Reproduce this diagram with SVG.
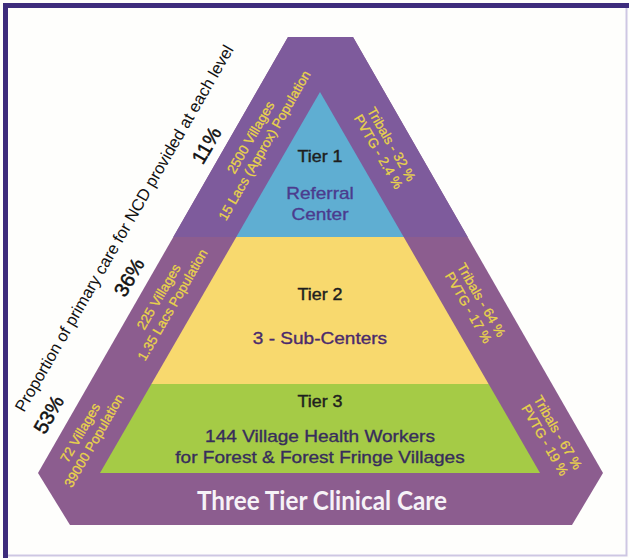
<svg xmlns="http://www.w3.org/2000/svg" width="629" height="558" viewBox="0 0 629 558">
  <style>
    .sans { font-family: "Liberation Sans", Arial, sans-serif; }
    .band { font-family: "Liberation Sans", Arial, sans-serif; font-size: 13.5px; fill: #E9D44A; stroke: #E9D44A; stroke-width: 0.3; text-anchor: middle; }
    .pct { font-family: "Liberation Sans", Arial, sans-serif; font-size: 20px; fill: #111; stroke: #111; stroke-width: 0.5; text-anchor: middle; }
    .tier { font-family: "Liberation Sans", Arial, sans-serif; font-size: 16px; fill: #1E1E1E; stroke: #1E1E1E; stroke-width: 0.4; text-anchor: middle; }
    .desc { font-family: "Liberation Sans", Arial, sans-serif; font-size: 17px; stroke-width: 0.35; text-anchor: middle; }
  </style>

  <!-- page background and frame -->
  <rect x="0" y="0" width="629" height="558" fill="#FEFEFC"/>
  <path d="M5.5 558 V5.5 H629" fill="none" stroke="#3D2C7C" stroke-width="5"/>
  <path d="M626.5 8 V555.5 H8" fill="none" stroke="#CEC7E3" stroke-width="2"/>

  <!-- outer hexagonal band -->
  <g id="outer-band">
    <polygon points="288,37 353,37 603,473 572,525 70,525 38,473" fill="#8C5D8F"/>
    <polygon points="288,37 353,37 467.7,237 173.3,237" fill="#7E5B9C"/>
  </g>

  <!-- tier 1: referral center -->
  <g id="tier1">
    <polygon points="320,92 403.7,237 236.3,237" fill="#5FAED2"/>
  </g>
  <!-- tier 2: sub-centers -->
  <g id="tier2">
    <polygon points="236.3,237 403.7,237 488.6,384 151.4,384" fill="#F8D96E"/>
  </g>
  <!-- tier 3: village health workers -->
  <g id="tier3">
    <polygon points="151.4,384 488.6,384 540,473 100,473" fill="#A5CB46"/>
  </g>

  <!-- centre labels, slightly widened -->
  <g id="tier-labels" transform="matrix(1.12 0 0 1 -38.4 0)">
    <text class="tier" x="320" y="162">Tier 1</text>
    <text class="desc" x="320" y="199" fill="#4B3B8E" stroke="#4B3B8E">Referral</text>
    <text class="desc" x="320" y="220" fill="#4B3B8E" stroke="#4B3B8E">Center</text>
    <text class="tier" x="320" y="300">Tier 2</text>
    <text class="desc" x="320" y="344" fill="#4A2A6C" stroke="#4A2A6C">3 - Sub-Centers</text>
    <text class="tier" x="320" y="407">Tier 3</text>
    <text class="desc" x="320" y="442" fill="#372D5C" stroke="#372D5C">144 Village Health Workers</text>
    <text class="desc" x="320" y="463" fill="#372D5C" stroke="#372D5C">for Forest &amp; Forest Fringe Villages</text>
  </g>

  <!-- title in the base of the band -->
  <g id="title">
    <text x="322" y="510" text-anchor="middle" textLength="250" lengthAdjust="spacingAndGlyphs"
          font-family="Lato, 'Open Sans', sans-serif" font-weight="bold" font-size="26" fill="#F6F2F7">Three Tier Clinical Care</text>
  </g>

  <!-- left side: along the outer left edge -->
  <g id="left-side" transform="translate(38,473) rotate(-60)">
    <text class="sans" x="255" y="-42" font-size="16.5" fill="#111" text-anchor="middle">Proportion of primary care for NCD provided at each level</text>
    <text class="pct" x="56" y="-13">53%</text>
    <text class="pct" x="215" y="-12">36%</text>
    <text class="pct" x="368" y="-11">11%</text>

    <text class="band" x="397" y="21">2500 Villages</text>
    <text class="band" x="397" y="37">15 Lacs (Approx) Population</text>
    <text class="band" x="213" y="21">225 Villages</text>
    <text class="band" x="213" y="37">1.35 Lacs Population</text>
    <text class="band" x="56" y="21">72 Villages</text>
    <text class="band" x="56" y="37">39000 Population</text>
  </g>

  <!-- right side: along the outer right edge -->
  <g id="right-side" transform="translate(353,37) rotate(60)">
    <text class="band" x="112" y="25">Tribals - 32 %</text>
    <text class="band" x="112" y="40">PVTG - 2.4 %</text>
    <text class="band" x="292" y="25">Tribals - 64 %</text>
    <text class="band" x="292" y="40">PVTG - 17 %</text>
    <text class="band" x="445" y="25">Tribals - 67 %</text>
    <text class="band" x="445" y="40">PVTG - 19 %</text>
  </g>
</svg>
